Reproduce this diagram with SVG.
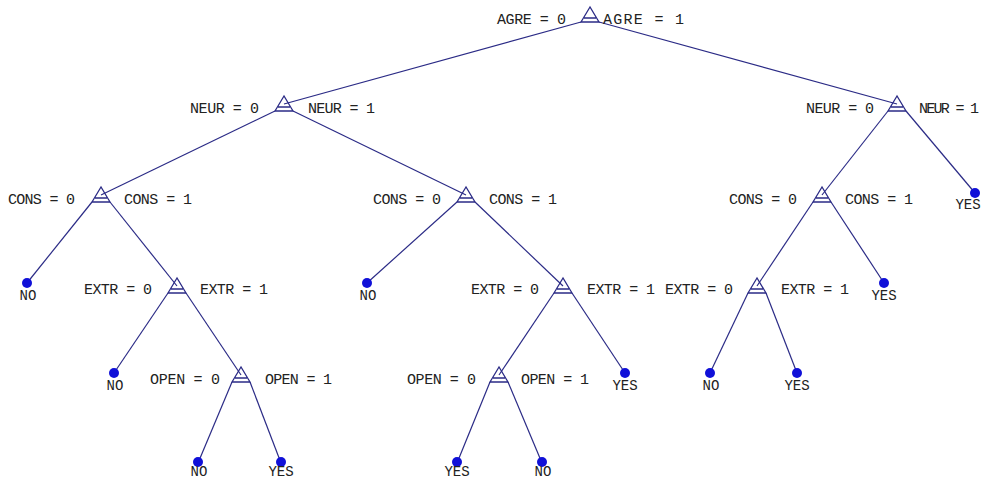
<svg xmlns="http://www.w3.org/2000/svg" width="981" height="479" viewBox="0 0 981 479">
<defs>
<style>
.e{stroke:#2b2b86;stroke-width:1.2;fill:none}
.t{stroke:#2b2b86;stroke-width:1.3;fill:none}
.d{fill:#1010d8}
text{font-family:"Liberation Mono","DejaVu Sans Mono",monospace;font-size:15px;fill:#222}
.lf{font-size:14px;text-anchor:middle}
</style>
<g id="tri"><path d="M0,-8 L-9,7 L9,7 Z M-6,3 L6,3"/></g>
</defs>
<rect width="981" height="479" fill="#fff"/>
<g id="connectors" class="e">
<line x1="581" y1="22" x2="284" y2="104"/>
<line x1="599" y1="22" x2="897" y2="104"/>
<line x1="275" y1="111" x2="101" y2="195"/>
<line x1="293" y1="111" x2="466" y2="195"/>
<line x1="92" y1="202" x2="27" y2="283"/>
<line x1="110" y1="202" x2="177" y2="286"/>
<line x1="168" y1="293" x2="114" y2="373"/>
<line x1="186" y1="293" x2="241" y2="375"/>
<line x1="232" y1="382" x2="198" y2="463"/>
<line x1="250" y1="382" x2="281" y2="463"/>
<line x1="457" y1="202" x2="367" y2="283"/>
<line x1="475" y1="202" x2="563" y2="286"/>
<line x1="554" y1="293" x2="499" y2="375"/>
<line x1="572" y1="293" x2="625" y2="373"/>
<line x1="490" y1="382" x2="457" y2="463"/>
<line x1="508" y1="382" x2="542" y2="463"/>
<line x1="888" y1="111" x2="822" y2="195"/>
<line x1="906" y1="111" x2="975" y2="193"/>
<line x1="813" y1="202" x2="757" y2="286"/>
<line x1="831" y1="202" x2="884" y2="283"/>
<line x1="748" y1="293" x2="710" y2="373"/>
<line x1="766" y1="293" x2="797" y2="373"/>
</g>
<g id="n-root"><use href="#tri" class="t" x="590" y="15"/><text x="497" y="24" textLength="69">AGRE = 0</text><text x="603" y="24" textLength="81">AGRE = 1</text></g>
<g id="n-neur-l"><use href="#tri" class="t" x="284" y="104"/><text x="190" y="113" textLength="69">NEUR = 0</text><text x="308" y="113" textLength="67">NEUR = 1</text></g>
<g id="n-neur-r"><use href="#tri" class="t" x="897" y="104"/><text x="806" y="113" textLength="68">NEUR = 0</text><text x="919" y="113" textLength="60">NEUR = 1</text></g>
<g id="n-cons-a"><use href="#tri" class="t" x="101" y="195"/><text x="8" y="204" textLength="67">CONS = 0</text><text x="124" y="204" textLength="68">CONS = 1</text></g>
<g id="n-cons-b"><use href="#tri" class="t" x="466" y="195"/><text x="373" y="204" textLength="68">CONS = 0</text><text x="489" y="204" textLength="68">CONS = 1</text></g>
<g id="n-cons-c"><use href="#tri" class="t" x="822" y="195"/><text x="729" y="204" textLength="68">CONS = 0</text><text x="845" y="204" textLength="68">CONS = 1</text></g>
<g id="n-extr-a"><use href="#tri" class="t" x="177" y="286"/><text x="84" y="294" textLength="68">EXTR = 0</text><text x="200" y="294" textLength="68">EXTR = 1</text></g>
<g id="n-extr-b"><use href="#tri" class="t" x="563" y="286"/><text x="471" y="294" textLength="68">EXTR = 0</text><text x="587" y="294" textLength="68">EXTR = 1</text></g>
<g id="n-extr-c"><use href="#tri" class="t" x="757" y="286"/><text x="665" y="294" textLength="68">EXTR = 0</text><text x="781" y="294" textLength="68">EXTR = 1</text></g>
<g id="n-open-a"><use href="#tri" class="t" x="241" y="375"/><text x="150" y="384" textLength="70">OPEN = 0</text><text x="265" y="384" textLength="67">OPEN = 1</text></g>
<g id="n-open-b"><use href="#tri" class="t" x="499" y="375"/><text x="407" y="384" textLength="69">OPEN = 0</text><text x="521" y="384" textLength="68">OPEN = 1</text></g>
<g id="l1"><circle class="d" cx="27" cy="283" r="5"/><text class="lf" x="28" y="300">NO</text></g>
<g id="l2"><circle class="d" cx="367" cy="283" r="5"/><text class="lf" x="368" y="300">NO</text></g>
<g id="l3"><circle class="d" cx="975" cy="193" r="5"/><text class="lf" x="968" y="209">YES</text></g>
<g id="l4"><circle class="d" cx="884" cy="283" r="5"/><text class="lf" x="884" y="300">YES</text></g>
<g id="l5"><circle class="d" cx="114" cy="373" r="5"/><text class="lf" x="115" y="390">NO</text></g>
<g id="l6"><circle class="d" cx="625" cy="373" r="5"/><text class="lf" x="625" y="390">YES</text></g>
<g id="l7"><circle class="d" cx="710" cy="373" r="5"/><text class="lf" x="711" y="390">NO</text></g>
<g id="l8"><circle class="d" cx="797" cy="373" r="5"/><text class="lf" x="797" y="390">YES</text></g>
<g id="l9"><circle class="d" cx="198" cy="462" r="5"/><text class="lf" x="199" y="476">NO</text></g>
<g id="l10"><circle class="d" cx="281" cy="462" r="5"/><text class="lf" x="281" y="476">YES</text></g>
<g id="l11"><circle class="d" cx="457" cy="462" r="5"/><text class="lf" x="457" y="476">YES</text></g>
<g id="l12"><circle class="d" cx="542" cy="462" r="5"/><text class="lf" x="543" y="476">NO</text></g>
</svg>
